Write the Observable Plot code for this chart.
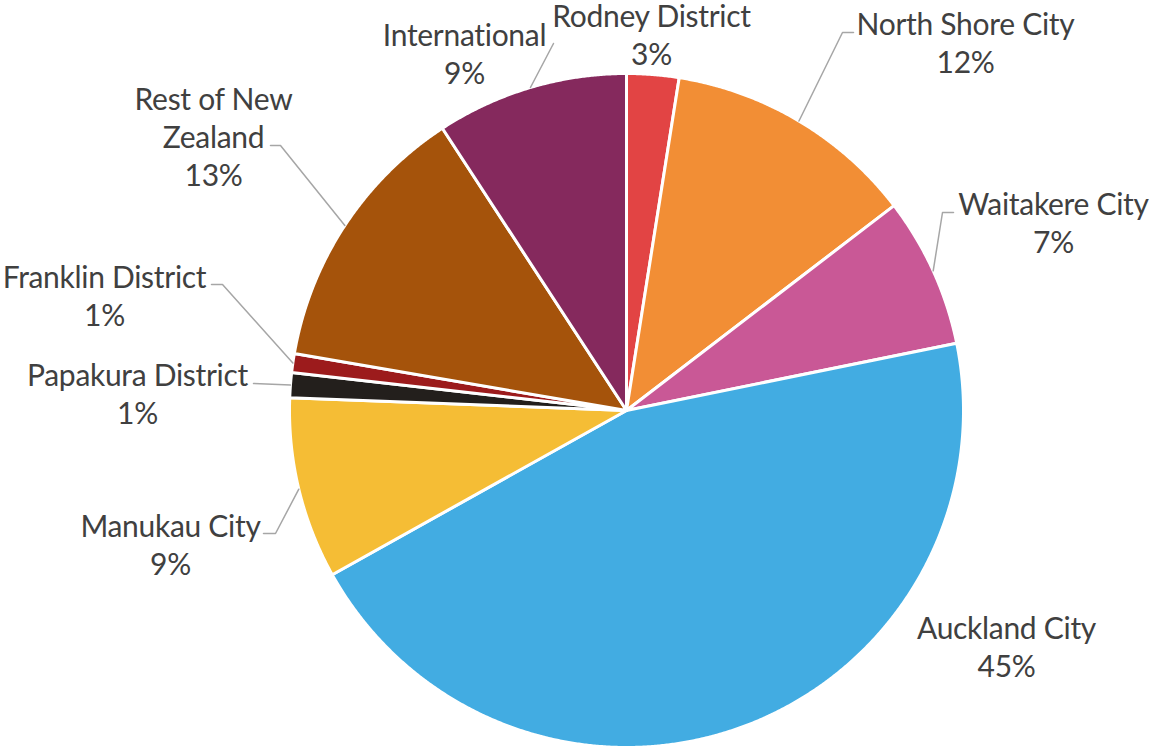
<!DOCTYPE html>
<html>
<head>
<meta charset="utf-8">
<script src="https://cdn.jsdelivr.net/npm/d3@7"></script>
<script src="https://cdn.jsdelivr.net/npm/@observablehq/plot@0.6"></script>
<style>
  html, body { margin: 0; padding: 0; background: #fff; }
  #chart svg { display: block; }
</style>
</head>
<body>
<div id="chart"></div>
<script>
// ---- Data ----
const names = ["Rodney District", "North Shore City", "Waitakere City", "Auckland City",
  "Manukau City", "Papakura District", "Franklin District", "Rest of New Zealand", "International"];
const values = [2.5, 12.1, 7.2, 45.1, 8.7, 1.2, 0.9, 13.1, 9.2];
const labelLines = ["Rodney District", "North Shore City", "Waitakere City", "Auckland City",
  "Manukau City", "Papakura District", "Franklin District", "Rest of New\nZealand", "International"];
const colors = ["#E24444", "#F28E35", "#C95896", "#42ACE2", "#F5BD35", "#231F1C", "#9C1B1C", "#A5530B", "#85295D"];

// ---- Layout (label placement, leader anchors) ----
const W = 1152, H = 748, cx = 626, cy = 410, R = 337;
const labelX = [651, 965, 1053, 1006, 170, 137, 104, 213, 464];
const labelY = [33, 41, 221, 645, 543, 392, 294, 135, 52];
const anchorX = [null, 853, 953, null, 263, 253, 211, 270, 553];
const anchorY = [null, 32, 212, null, 533, 383, 284, 145, 43];
const elbow = [0, -11, -11, 0, 12, 0, 11, 10, 0];

const total = d3.sum(values);
const arcs = d3.pie().sort(null).value(d => d)(values);

const slicePts = [];
arcs.forEach((a, i) => {
  slicePts.push({name: names[i], x: cx, y: cy});
  const n = Math.max(2, Math.ceil((a.endAngle - a.startAngle) / (Math.PI / 720)));
  for (let k = 0; k <= n; k++) {
    const t = a.startAngle + (a.endAngle - a.startAngle) * k / n;
    slicePts.push({name: names[i], x: cx + R * Math.sin(t), y: cy - R * Math.cos(t)});
  }
  slicePts.push({name: names[i], x: cx, y: cy});
});

const labels = names.map((n, i) => ({
  name: n, x: labelX[i], y: labelY[i],
  text: labelLines[i] + "\n" + Math.round(values[i] / total * 100) + "%"
}));

const leaders = [];
arcs.forEach((a, i) => {
  if (anchorX[i] == null) return;
  const m = (a.startAngle + a.endAngle) / 2;
  leaders.push({name: names[i], x: anchorX[i], y: anchorY[i]});
  if (elbow[i] !== 0) leaders.push({name: names[i], x: anchorX[i] + elbow[i], y: anchorY[i]});
  leaders.push({name: names[i], x: cx + R * Math.sin(m), y: cy - R * Math.cos(m)});
});

const chart = Plot.plot({
  width: W, height: H, margin: 0,
  x: {domain: [0, W], range: [0, W], axis: null},
  y: {domain: [0, H], range: [0, H], axis: null},
  color: {domain: names, range: colors},
  style: {fontFamily: "Lato, Calibri, sans-serif", background: "#fff", letterSpacing: "-0.3px"},
  marks: [
    Plot.line(slicePts, {x: "x", y: "y", z: "name", fill: "name", stroke: "white", strokeWidth: 3, strokeLinejoin: "round", curve: "linear"}),
    Plot.line(leaders, {x: "x", y: "y", z: "name", stroke: "#A6A6A6", strokeWidth: 1.5}),
    Plot.text(labels, {x: "x", y: "y", text: "text", fontSize: 30, lineHeight: 38 / 30, fill: "#404040", textAnchor: "middle"})
  ]
});
document.getElementById("chart").appendChild(chart);
</script>
</body>
</html>
